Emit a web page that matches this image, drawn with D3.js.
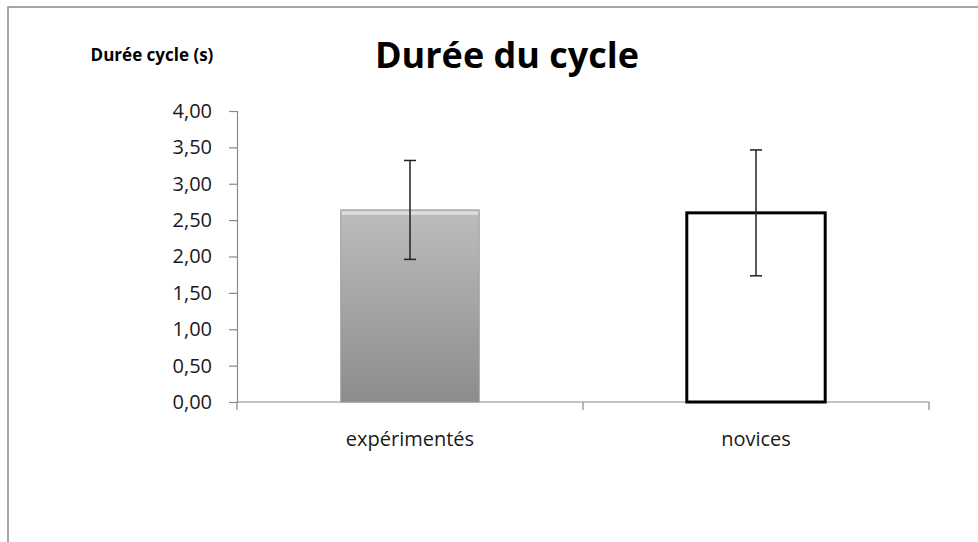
<!DOCTYPE html>
<html lang="fr">
<head>
  <meta charset="UTF-8">
  <title>Durée du cycle</title>
  <style>
    body { margin: 0; background: #fff; }
    text { font-family: "Open Sans", "Noto Sans", sans-serif; }
  </style>
</head>
<body>
  <svg id="svg" width="978" height="542"></svg>

  <script src="https://d3js.org/d3.v7.min.js"></script>
  <script>
    // data
    const categories = ['expérimentés', 'novices']
    const means = [2.64, 2.60]
    const errors = [0.68, 0.865]
    const yTicks = [0, 0.5, 1, 1.5, 2, 2.5, 3, 3.5, 4]

    const margin = { top: 111, right: 49, bottom: 140, left: 237 }
    const width = 978 - margin.left - margin.right
    const height = 542 - margin.top - margin.bottom

    const svg = d3.select('#svg')

    // gradient for the grey bar
    const defs = svg.append('defs')
    const grad = defs.append('linearGradient')
      .attr('id', 'greyGrad')
      .attr('x1', 0).attr('y1', 0).attr('x2', 0).attr('y2', 1)
    grad.append('stop').attr('offset', '0%').attr('stop-color', '#bdbdbd')
    grad.append('stop').attr('offset', '100%').attr('stop-color', '#8c8c8c')

    // outer frame (extends past the window on right and bottom)
    svg.append('rect')
      .attr('x', 8).attr('y', 7)
      .attr('width', 1000).attr('height', 600)
      .attr('fill', 'none')
      .attr('stroke', '#8a8a8a')
      .attr('stroke-width', 1.5)

    const xscale = d3.scaleBand()
      .domain(categories)
      .range([margin.left, margin.left + width])
      .paddingInner(0.6)
      .paddingOuter(0.3)

    const yscale = d3.scaleLinear()
      .domain([0, 4])
      .range([margin.top + height, margin.top])

    // y axis
    const leftAxis = d3.axisLeft(yscale)
      .tickValues(yTicks)
      .tickSize(8)
      .tickPadding(17)
      .tickFormat(d => d3.format('.2f')(d).replace('.', ','))
    const gy = svg.append('g')
      .attr('transform', `translate(${margin.left}, 0)`)
      .call(leftAxis)
    gy.select('.domain').attr('stroke', '#8a8a8a').attr('stroke-width', 1.2)
    gy.selectAll('.tick line').attr('stroke', '#8a8a8a').attr('stroke-width', 1.2)
    gy.selectAll('.tick text')
      .attr('font-size', 20)
      .attr('fill', '#1a1a1a')
      .attr('font-family', '"Open Sans", sans-serif')

    // x axis line with category dividers
    const base = yscale(0)
    const step = xscale.step()
    const dividers = [0, 1, 2].map(i =>
      i === 0 ? margin.left : xscale(categories[i - 1]) + xscale.bandwidth() + step * 0.3)
    svg.append('line')
      .attr('x1', margin.left).attr('x2', margin.left + width)
      .attr('y1', base).attr('y2', base)
      .attr('stroke', '#8a8a8a').attr('stroke-width', 1.2)
    svg.selectAll('.xtick')
      .data(dividers)
      .enter()
      .append('line')
      .attr('class', 'xtick')
      .attr('x1', d => d).attr('x2', d => d)
      .attr('y1', base).attr('y2', base + 8)
      .attr('stroke', '#8a8a8a').attr('stroke-width', 1.2)

    svg.selectAll('.xlabel')
      .data(categories)
      .enter()
      .append('text')
      .attr('class', 'xlabel')
      .attr('x', d => xscale(d) + xscale.bandwidth() / 2)
      .attr('y', base + 44)
      .attr('text-anchor', 'middle')
      .attr('font-size', 20)
      .attr('fill', '#1a1a1a')
      .text(d => d)

    // bars
    svg.selectAll('.bar')
      .data(categories)
      .enter()
      .append('rect')
      .attr('class', 'bar')
      .attr('x', d => xscale(d))
      .attr('y', (d, i) => yscale(means[i]))
      .attr('width', xscale.bandwidth())
      .attr('height', (d, i) => base - yscale(means[i]))
      .attr('fill', (d, i) => i === 0 ? 'url(#greyGrad)' : '#fff')
      .attr('stroke', (d, i) => i === 0 ? '#9a9a9a' : '#000')
      .attr('stroke-width', (d, i) => i === 0 ? 1 : 3)

    // small bevel highlight on the grey bar
    svg.append('rect')
      .attr('x', xscale(categories[0]) + 1)
      .attr('y', yscale(means[0]) + 1)
      .attr('width', xscale.bandwidth() - 2)
      .attr('height', 4)
      .attr('fill', '#e2e2e2')
      .attr('opacity', 0.8)

    // error bars
    const errG = svg.append('g')
      .attr('stroke', '#222')
      .attr('stroke-width', 1.5)
    categories.forEach((c, i) => {
      const cx = xscale(c) + xscale.bandwidth() / 2
      const top = yscale(means[i] + errors[i])
      const bot = yscale(means[i] - errors[i])
      errG.append('line').attr('x1', cx).attr('x2', cx).attr('y1', top).attr('y2', bot)
      errG.append('line').attr('x1', cx - 6).attr('x2', cx + 6).attr('y1', top).attr('y2', top)
      errG.append('line').attr('x1', cx - 6).attr('x2', cx + 6).attr('y1', bot).attr('y2', bot)
    })

    // titles
    svg.append('text')
      .attr('x', 507).attr('y', 68)
      .attr('text-anchor', 'middle')
      .attr('font-size', 36)
      .attr('font-weight', 'bold')
      .attr('fill', '#000')
      .text('Durée du cycle')

    svg.append('text')
      .attr('x', 152).attr('y', 61)
      .attr('text-anchor', 'middle')
      .attr('font-size', 17)
      .attr('font-weight', 'bold')
      .attr('fill', '#000')
      .text('Durée cycle (s)')
  </script>
</body>
</html>
